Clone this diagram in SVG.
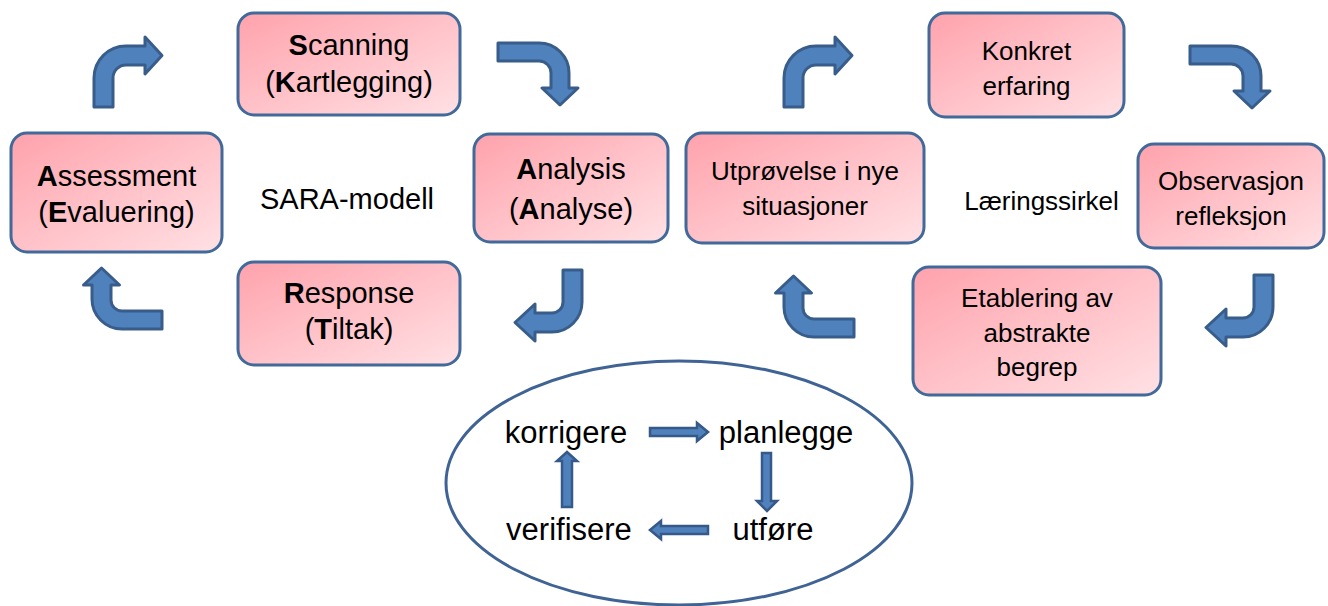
<svg xmlns="http://www.w3.org/2000/svg" width="1328" height="606" viewBox="0 0 1328 606">
<defs>
<linearGradient id="pink" x1="0" y1="0" x2="1" y2="1">
<stop offset="0" stop-color="#ffa2ac"/>
<stop offset="1" stop-color="#ffe1e4"/>
</linearGradient>
<style>
.box{fill:url(#pink);stroke:#41699a;stroke-width:3}
.t{font-family:"Liberation Sans",Arial,sans-serif;fill:#000;text-anchor:middle}
.s29{font-size:29px}
.s26{font-size:26px}
.s31{font-size:31px}
.b{font-weight:bold}
.big{fill:#4f81bd;stroke:#385d8a;stroke-width:3;stroke-linejoin:round}
.sm{fill:#4f81bd;stroke:#36598a;stroke-width:2.5;stroke-linejoin:miter}
</style>
</defs>
<rect width="1328" height="606" fill="#fff"/>

<g id="cycle">
<ellipse cx="679" cy="483" rx="233" ry="122" fill="#fff" stroke="#3f6394" stroke-width="3"/>
<text class="t s31" x="566" y="443">korrigere</text>
<text class="t s31" x="786" y="443">planlegge</text>
<text class="t s31" x="773" y="540">utføre</text>
<text class="t s31" x="569" y="540">verifisere</text>
</g>

<g id="connectors">
<path id="a1" class="big" d="M94,107 L94,78 A32,32 0 0 1 126,46 L145,46 L145,37 L162,55.5 L145,74 L145,65 L126,65 A13,13 0 0 0 113,78 L113,107 Z"/>
<path id="a2" class="big" d="M498,43 L539,43 A30,30 0 0 1 569,73 L569,88 L578,88 L560,105 L542,88 L551,88 L551,73 A12,12 0 0 0 539,61 L498,61 Z"/>
<path id="a3" class="big" d="M563,270 L582,270 L582,302 A30,30 0 0 1 552,332 L535,332 L535,341 L515,322.5 L535,304 L535,313 L552,313 A11,11 0 0 0 563,302 Z"/>
<path id="a4" class="big" d="M162,311 L162,329 L122,329 A30,30 0 0 1 92,299 L92,285 L83.5,285 L101.5,268 L119.5,285 L111,285 L111,300 A11,11 0 0 0 122,311 Z"/>
<use href="#a1" transform="translate(690,0)"/>
<use href="#a2" transform="translate(692,3)"/>
<use href="#a3" transform="translate(691,5)"/>
<use href="#a4" transform="translate(692,8)"/>

<path class="sm" d="M650,428 L697,428 L697,423 L708,432 L697,441 L697,436 L650,436 Z"/>
<path class="sm" d="M762,453 L771,453 L771,501 L777,501 L767,511 L757,501 L762,501 Z"/>
<path class="sm" d="M708,526 L661,526 L661,521 L650,530 L661,539 L661,534 L708,534 Z"/>
<path class="sm" d="M562,507 L562,461 L557,461 L567,452 L577,461 L572,461 L572,507 Z"/>
</g>

<g id="scanning">
<rect class="box" x="238" y="13" width="222" height="102" rx="16"/>
<text class="t s29" x="349" y="55"><tspan class="b">S</tspan>canning</text>
<text class="t s29" x="349" y="92">(<tspan class="b">K</tspan>artlegging)</text>
</g>
<g id="analysis">
<rect class="box" x="474" y="134" width="194" height="108" rx="16"/>
<text class="t s29" x="571" y="179"><tspan class="b">A</tspan>nalysis</text>
<text class="t s29" x="571" y="219">(<tspan class="b">A</tspan>nalyse)</text>
</g>
<g id="response">
<rect class="box" x="238" y="262" width="222" height="103" rx="16"/>
<text class="t s29" x="349" y="303"><tspan class="b">R</tspan>esponse</text>
<text class="t s29" x="349" y="339">(<tspan class="b">T</tspan>iltak)</text>
</g>
<g id="assessment">
<rect class="box" x="11" y="133" width="211" height="119" rx="16"/>
<text class="t s29" x="116.5" y="186"><tspan class="b">A</tspan>ssessment</text>
<text class="t s29" x="116.5" y="222">(<tspan class="b">E</tspan>valuering)</text>
</g>
<g id="sara-label">
<text class="t s29" x="347" y="209">SARA-modell</text>
</g>

<g id="konkret">
<rect class="box" x="929" y="13" width="195" height="104" rx="16"/>
<text class="t s26" x="1026.5" y="60">Konkret</text>
<text class="t s26" x="1026.5" y="95">erfaring</text>
</g>
<g id="observasjon">
<rect class="box" x="1138" y="144" width="186" height="104" rx="16"/>
<text class="t s26" x="1231" y="190">Observasjon</text>
<text class="t s26" x="1231" y="225">refleksjon</text>
</g>
<g id="etablering">
<rect class="box" x="913" y="267" width="248" height="128" rx="16"/>
<text class="t s26" x="1037" y="307">Etablering av</text>
<text class="t s26" x="1037" y="342">abstrakte</text>
<text class="t s26" x="1037" y="376">begrep</text>
</g>
<g id="utproving">
<rect class="box" x="686" y="133" width="238" height="110" rx="16"/>
<text class="t s26" x="805" y="180">Utprøvelse i nye</text>
<text class="t s26" x="805" y="215">situasjoner</text>
</g>
<g id="laering-label">
<text class="t s26" x="1041.5" y="210">Læringssirkel</text>
</g>
</svg>
